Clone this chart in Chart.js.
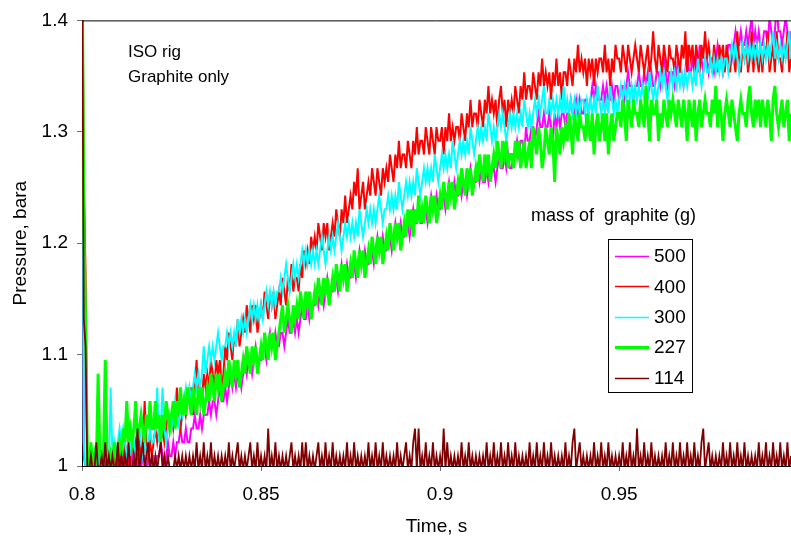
<!DOCTYPE html>
<html>
<head>
<meta charset="utf-8">
<script src="https://cdn.jsdelivr.net/npm/chart.js@4.4.1/dist/chart.umd.min.js"></script>
<style>
  html, body { margin: 0; padding: 0; background: #fff; }
  #wrap { width: 791px; height: 540px; }
</style>
</head>
<body>
<div id="wrap"><canvas id="myChartPression" width="791" height="540"></canvas></div>
<script>
//? Data : pressure trace of the ISO rig, logger counts (1 count = STEP bar above P0).

const P0 = 0.9967;
const STEP = 0.0123;
const T0 = 0.8;
const DT = 0.0005;
const NB_SAMPLES = 400;

const seriesLabels = ["500", "400", "300", "227", "114"];
const xTicks = [0.8, 0.85, 0.9, 0.95];
const xTickLabels = ["0.8", "0.85", "0.9", "0.95"];
const yTicks = [1, 1.1, 1.2, 1.3, 1.4];
const yTickLabels = ["1", "1.1", "1.2", "1.3", "1.4"];

const counts500 = [
  40,1,0,1,0,0,1,0,0,1, 0,1,0,0,1,0,1,0,0,1, 0,1,0,1,0,0,1,0,1,0, 1,0,1,0,1,1,0,1,0,1,
  1,0,1,1,2,1,0,1,2,1, 1,2,1,2,2,3,2,2,3,2, 2,3,3,4,3,3,4,3,4,4, 4,5,4,5,5,4,5,6,5,5,
  6,5,6,7,6,7,6,7,7,6, 7,8,7,8,8,7,8,9,8,8, 8,9,9,8,9,10,9,9,10,9, 9,10,10,9,10,11,10,10,11,10,
  11,10,11,12,11,11,12,11,12,12, 12,13,12,13,13,12,13,14,13,13, 13,14,14,13,14,15,14,14,15,14, 14,15,15,14,15,16,15,15,16,15,
  15,16,16,15,16,17,16,16,17,16, 16,17,17,16,17,18,17,17,18,17, 17,18,18,17,18,19,18,18,19,18, 18,19,19,18,19,20,19,19,20,19,
  19,20,20,19,20,21,20,20,21,20, 20,21,20,21,21,20,21,22,21,21, 21,22,21,22,21,21,22,21,22,22, 22,21,22,23,22,22,23,22,23,22,
  22,23,23,24,23,24,24,23,25,24, 24,25,25,24,25,26,25,25,26,25, 25,26,25,24,26,25,26,25,26,26, 25,26,26,27,26,26,27,26,27,26,
  26,27,27,26,27,28,27,28,27,27, 27,28,27,28,27,27,28,27,28,28, 27,28,28,27,28,29,28,28,27,28, 28,29,28,28,29,28,29,28,29,28,
  28,29,29,28,29,30,29,28,29,29, 29,28,29,30,29,29,28,29,31,29, 29,30,29,30,29,31,30,29,30,30, 29,30,30,29,30,31,30,30,29,30,
  30,31,31,30,31,32,31,31,32,31, 31,32,31,32,33,31,32,31,32,31, 31,32,32,31,33,32,31,32,34,32, 32,31,32,33,32,31,32,34,32,31
];

const counts400 = [
  40,22,14,0,1,0,1,0,1,0, 1,0,1,0,1,0,1,0,1,0, 1,0,1,0,2,1,0,1,2,1, 2,1,2,1,2,5,2,1,2,1,
  2,3,2,3,2,3,2,3,4,3, 4,3,4,6,4,3,4,5,4,5, 5,6,4,6,8,5,6,5,7,6, 7,6,8,7,6,8,7,8,6,7,
  9,8,10,9,8,10,9,11,9,10, 11,10,12,11,10,12,11,12,10,11, 12,11,13,12,11,13,12,13,11,12, 13,12,14,13,12,14,13,15,13,14,
  14,13,15,14,16,15,16,15,17,16, 17,16,18,17,16,18,17,18,16,17, 18,17,19,18,17,19,18,20,18,19, 20,19,21,20,22,19,20,21,19,20,
  21,20,22,21,20,22,21,20,22,21, 22,21,23,22,21,23,22,24,22,23, 23,22,24,23,22,24,23,25,23,24, 24,23,25,24,23,25,24,23,25,24,
  24,25,23,25,24,26,24,25,24,25, 25,24,26,25,24,26,25,27,25,26, 26,25,27,26,25,27,26,28,26,27, 26,27,25,27,28,26,27,25,27,26,
  27,26,28,27,26,28,27,29,27,28, 28,27,29,28,27,29,28,30,28,29, 28,29,27,29,28,30,28,29,27,29, 29,28,30,29,28,30,29,31,29,30,
  29,30,28,30,29,30,28,30,29,30, 30,29,31,29,30,28,30,29,31,30, 30,29,31,30,29,31,30,29,30,31, 30,29,31,30,29,30,31,29,30,32,
  30,29,31,30,29,31,30,29,31,30, 30,29,31,30,29,31,30,32,29,31, 30,31,29,31,30,29,31,30,32,30, 31,30,29,31,30,29,31,30,31,29,
  31,30,29,31,30,29,32,30,29,31, 30,31,29,30,32,29,31,30,29,31, 29,31,30,32,29,30,31,29,32,30, 30,29,31,30,32,29,30,31,29,30
];

const counts300 = [
  40,2,0,1,0,1,0,1,0,1, 0,1,0,2,1,0,6,1,2,1, 2,3,2,3,2,1,2,1,3,2, 1,2,3,2,1,2,1,2,3,2,
  2,3,6,2,3,6,3,2,3,4, 3,4,5,4,3,5,4,5,6,5, 6,5,6,7,6,7,6,7,9,7, 8,9,8,9,8,9,10,9,8,9,
  9,10,9,10,9,10,9,11,10,11, 10,11,10,11,12,11,12,11,12,11, 12,11,12,13,12,13,12,13,12,13, 13,14,13,14,15,14,13,14,15,14,
  15,14,15,16,15,16,15,16,15,16, 15,16,15,16,17,16,15,16,17,16, 17,16,17,18,17,16,17,18,17,18, 17,18,17,18,17,19,18,17,18,19,
  18,19,18,19,18,19,20,19,18,19, 19,20,19,20,19,20,19,21,20,19, 20,21,20,21,20,21,20,22,21,20, 21,22,21,22,21,22,21,23,22,21,
  22,23,22,23,22,23,22,24,23,22, 23,24,23,24,23,24,23,25,24,23, 24,25,24,25,24,25,24,26,25,24, 25,24,25,26,25,26,25,24,25,26,
  25,26,25,26,25,26,25,27,26,25, 26,25,26,27,26,27,26,27,28,26, 26,27,26,27,26,27,26,27,26,28, 26,27,26,27,26,27,26,27,26,27,
  27,26,27,26,27,26,27,26,28,27, 26,27,26,27,26,28,27,26,27,26, 27,28,27,28,27,28,27,28,27,28, 27,28,27,28,27,28,27,29,28,27,
  28,27,28,29,28,29,28,27,28,29, 28,29,28,29,28,29,28,29,28,29, 29,28,29,28,30,29,28,29,30,29, 29,30,29,30,29,30,29,30,29,30,
  30,29,30,31,30,31,30,29,30,31, 30,31,30,31,30,31,30,31,30,31, 30,31,30,31,30,31,32,30,31,30, 31,30,31,30,31,32,30,31,30,31
];

const counts227 = [
  40,18,11,1,0,2,0,1,0,7, 1,0,1,8,1,0,1,0,2,1, 1,2,1,3,2,5,2,3,2,3, 5,2,3,4,3,2,4,3,5,3,
  3,5,3,4,2,4,3,5,4,3, 4,5,3,5,4,6,4,5,4,6, 5,4,6,5,4,6,5,6,4,5, 6,5,7,6,5,7,6,7,5,6,
  7,6,8,7,6,8,7,8,6,7, 8,7,9,8,7,9,8,9,7,8, 9,8,10,9,8,10,9,10,8,9, 10,11,12,10,11,12,11,10,12,11,
  12,11,13,12,11,13,12,13,11,12, 13,12,14,13,12,14,13,14,12,13, 14,13,15,14,13,15,14,15,13,14, 15,14,16,15,14,16,15,16,14,15,
  16,15,17,16,15,17,16,17,15,16, 17,16,18,17,16,18,17,18,16,17, 18,17,19,18,19,17,19,18,20,18, 19,18,20,19,18,20,19,20,18,19,
  20,19,21,20,19,21,20,21,19,20, 21,20,22,21,20,22,21,22,20,21, 22,21,23,22,21,23,22,23,21,22, 23,22,24,23,22,24,23,24,22,23,
  23,22,24,23,24,22,23,24,22,23, 24,22,25,24,23,25,24,22,23,25, 24,23,25,24,21,25,24,23,25,24, 25,24,26,25,23,26,25,24,26,25,
  25,24,26,25,24,26,23,25,26,24, 25,26,24,26,23,25,26,24,25,26, 26,25,27,26,24,27,26,25,27,26, 26,25,27,26,25,28,26,24,27,26,
  26,27,24,26,25,27,26,25,27,26, 27,26,25,27,26,25,27,26,24,27, 26,25,27,24,26,27,25,26,27,26, 26,25,27,26,28,25,27,26,24,26,
  27,26,25,27,26,25,24,26,27,26, 26,25,27,28,26,25,27,26,27,25, 27,26,25,27,26,24,27,28,26,25, 26,27,25,26,27,24,26,25,27,26
];

const counts114 = [
  40,11,9,0,0,1,0,0,2,0, 0,1,0,2,0,1,0,1,0,0, 2,0,1,0,1,0,2,0,0,1, 0,3,0,1,2,0,1,2,0,1,
  0,1,0,1,2,0,1,0,1,0, 0,0,1,0,1,0,1,0,1,0, 1,0,1,0,2,0,1,0,2,0, 1,0,2,0,1,0,1,0,1,0,
  1,0,2,0,1,0,1,2,0,1, 0,1,0,1,2,0,1,0,2,0, 1,0,1,0,3,0,1,0,2,0, 1,0,1,0,1,0,1,2,0,1,
  0,1,0,2,0,2,0,1,0,1, 0,1,2,0,1,0,2,0,1,0, 2,0,1,0,1,0,1,0,2,0, 1,0,2,0,1,0,1,0,1,0,
  2,0,1,0,2,0,1,0,2,0, 1,0,1,0,1,0,2,0,1,0, 1,2,0,1,0,2,3,0,3,0, 1,0,2,0,1,0,2,0,1,0,
  1,0,3,0,2,0,1,0,1,0, 1,0,2,0,1,0,2,0,1,0, 1,0,1,0,1,0,2,0,1,0, 2,0,1,0,2,0,1,0,2,0,
  1,0,2,0,1,0,1,0,1,0, 2,0,1,0,2,0,1,0,2,0, 1,0,2,0,1,0,1,0,1,0, 2,0,1,0,2,3,0,1,2,0,
  1,0,1,0,1,0,2,0,1,0, 2,0,1,0,2,0,1,0,1,0, 1,0,2,0,1,0,2,0,1,0, 3,0,1,0,2,0,1,0,2,0,
  1,0,1,0,1,0,2,0,1,0, 2,0,1,0,2,0,1,0,2,0, 1,0,2,0,1,0,2,3,0,1, 2,0,1,0,1,0,1,0,2,0,
  1,0,2,0,1,0,2,0,1,0, 2,0,1,0,1,0,1,0,2,0, 1,0,2,0,1,0,2,0,1,0, 2,0,1,0,2,0,1,0,1,0
];

const seriesCounts = [counts500, counts400, counts300, counts227, counts114];
const seriesColors = ["#ff00ff", "#ff0000", "#00ffff", "#00ff00", "#800000"];
const seriesWidths = [2, 2, 2, 3, 1.8];
const drawOrder = [4, 3, 2, 1, 0];

//? -------------------------------------------------

//? Time of each sample (logger at 2 kHz).

const timeS = [];
for (let i = 0; i < NB_SAMPLES; i++) timeS.push(T0 + i * DT);

const toPoints = (counts) =>
  counts.map((c, i) => ({ x: timeS[i], y: P0 + c * STEP }));

//? -------------------------------------------------

//? Texts and legend drawn over the chart.

const FONT = "'Liberation Sans', Arial, sans-serif";

const decorPlugin = {
  id: "decor",
  afterDatasetsDraw(chart) {
    const { ctx, chartArea } = chart;
    ctx.save();

    // top frame line
    ctx.strokeStyle = "#000";
    ctx.lineWidth = 1;
    ctx.beginPath();
    ctx.moveTo(chartArea.left, chartArea.top + 0.5);
    ctx.lineTo(chartArea.right, chartArea.top + 0.5);
    ctx.stroke();

    ctx.fillStyle = "#000";
    ctx.textBaseline = "alphabetic";
    ctx.textAlign = "left";
    ctx.font = "17px " + FONT;
    ctx.fillText("ISO rig", 128, 57);
    ctx.fillText("Graphite only", 128, 82);

    ctx.font = "18px " + FONT;
    ctx.fillText("mass of  graphite (g)", 531, 221);

    // legend box
    ctx.fillStyle = "#fff";
    ctx.fillRect(608, 239, 84, 153);
    ctx.strokeStyle = "#000";
    ctx.lineWidth = 1;
    ctx.strokeRect(608.5, 239.5, 84, 153);

    ctx.font = "19px " + FONT;
    ctx.textBaseline = "middle";
    chart.data.datasets.forEach((ds, i) => {
      const y = 256 + i * 30.4;
      ctx.strokeStyle = ds.borderColor;
      ctx.lineWidth = i === 3 ? 3 : 1.5;
      ctx.beginPath();
      ctx.moveTo(615, Math.round(y) + 0.5);
      ctx.lineTo(649, Math.round(y) + 0.5);
      ctx.stroke();
      ctx.fillStyle = "#000";
      ctx.fillText(ds.label, 654, y + 1);
    });

    ctx.restore();
  },
};

//? -------------------------------------------------

//? Construction du graphique.

const constructionGraphique = () => {
  const ctx = document.getElementById("myChartPression").getContext("2d");

  const datasets = seriesLabels.map((label, k) => ({
    label,
    data: toPoints(seriesCounts[k]),
    borderColor: seriesColors[k],
    backgroundColor: seriesColors[k],
    borderWidth: seriesWidths[k],
    pointRadius: 0,
    tension: 0,
    fill: false,
    clip: 0,
    order: drawOrder[k],
  }));

  new Chart(ctx, {
    type: "line",
    data: { datasets },
    options: {
      responsive: false,
      animation: false,
      events: [],
      layout: { padding: { top: 17, right: 0, bottom: 0, left: 0 } },
      plugins: { legend: { display: false }, tooltip: { enabled: false } },
      scales: {
        x: {
          type: "linear",
          min: 0.8,
          max: 0.998,
          afterBuildTicks: (scale) => {
            scale.ticks = xTicks.map((v) => ({ value: v }));
          },
          afterFit: (scale) => {
            scale.height = 74;
          },
          ticks: {
            callback: (v, i) => xTickLabels[i],
            autoSkip: false,
            maxRotation: 0,
            padding: 12,
            color: "#000",
            font: { family: FONT, size: 19 },
          },
          grid: { drawOnChartArea: false, drawTicks: true, tickLength: 5, color: "#707070" },
          border: { display: true, color: "#000", width: 1 },
          title: {
            display: true,
            text: "Time, s",
            color: "#000",
            font: { family: FONT, size: 19 },
            padding: { top: 0, bottom: 2 },
          },
        },
        y: {
          type: "linear",
          min: 1,
          max: 1.4,
          afterBuildTicks: (scale) => {
            scale.ticks = yTicks.map((v) => ({ value: v }));
          },
          afterFit: (scale) => {
            scale.width = 82;
          },
          ticks: {
            callback: (v, i) => yTickLabels[i],
            padding: 9,
            color: "#000",
            font: { family: FONT, size: 19 },
          },
          grid: { drawOnChartArea: false, drawTicks: true, tickLength: 5, color: "#707070" },
          border: { display: true, color: "#000", width: 1 },
          title: {
            display: true,
            text: "Pressure, bara",
            color: "#000",
            font: { family: FONT, size: 19 },
            padding: { top: 9, bottom: 0 },
          },
        },
      },
    },
    plugins: [decorPlugin],
  });
};

constructionGraphique();
</script>
</body>
</html>
